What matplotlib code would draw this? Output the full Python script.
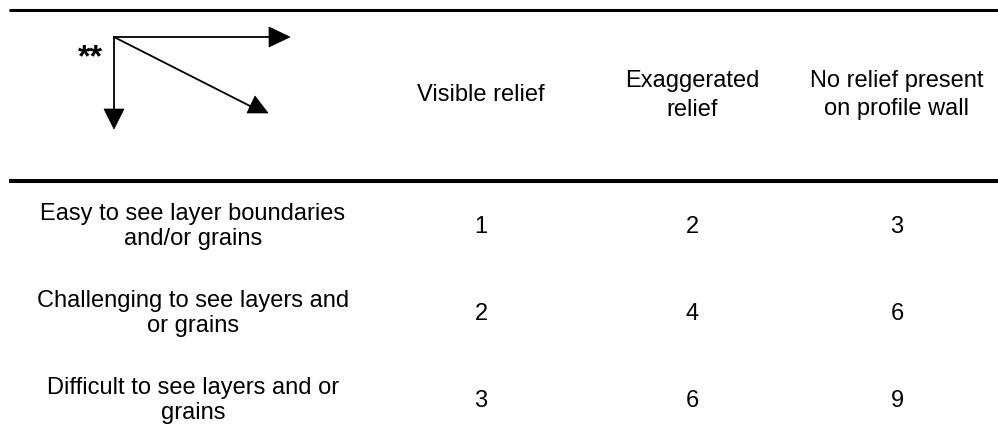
import matplotlib
matplotlib.use("Agg")
import matplotlib.pyplot as plt
from matplotlib.patches import Polygon

# ---- data ----
col_headers = ["Visible relief", "Exaggerated\nrelief", "No relief present\non profile wall"]
row_labels = ["Easy to see layer boundaries\nand/or grains",
              "Challenging to see layers and\nor grains",
              "Difficult to see layers and or\ngrains"]
values = [[1, 2, 3],
          [2, 4, 6],
          [3, 6, 9]]
corner_mark = "**"

# ---- layout (pixel coordinates) ----
W, H = 998, 438
FONT = "Liberation Sans"
FS = 17
col_x = [481, 692, 897]
label_x = 193
header_mid = 101          # vertical middle of header cell (baseline ref)
row_num_base = [233, 320, 407]
header_ls = 29
row_ls = 25

fig = plt.figure(figsize=(W / 100, H / 100), dpi=100)
ax = fig.add_axes([0, 0, 1, 1])
ax.set_xlim(0, W)
ax.set_ylim(H, 0)
ax.axis("off")

# horizontal rules
ax.plot([9, W], [9.5, 9.5], color="black", lw=2.2, solid_capstyle="butt")
ax.plot([9, W], [181, 181], color="black", lw=2.9, solid_capstyle="butt")


def multiline(x, base_mid, text, ls):
    lines = text.split("\n")
    n = len(lines)
    first = base_mid - (n - 1) * ls / 2
    for i, ln in enumerate(lines):
        ax.text(x, first + i * ls, ln, ha="center", va="baseline",
                fontsize=FS, family=FONT, color="black")


# header
for x, h in zip(col_x, col_headers):
    multiline(x, header_mid, h, header_ls)

# rows
for base, lab, vals in zip(row_num_base, row_labels, values):
    multiline(label_x, base - 0.5, lab, row_ls)
    for x, v in zip(col_x, vals):
        ax.text(x, base, str(v), ha="center", va="baseline",
                fontsize=FS, family=FONT, color="black")

# corner arrows
ox, oy = 114, 37
lw = 1.3
ax.plot([ox, 270], [oy, oy], color="black", lw=lw)
ax.add_patch(Polygon([[269, 27], [290, 37], [269, 47]], closed=True,
                     facecolor="black", edgecolor="black", lw=0.5))
ax.plot([ox, ox], [oy, 110], color="black", lw=lw)
ax.add_patch(Polygon([[104, 109], [124, 109], [114, 129]], closed=True,
                     facecolor="black", edgecolor="black", lw=0.5))
ax.plot([ox, 250], [oy, 106], color="black", lw=lw)
ax.add_patch(Polygon([[247, 113], [268, 113], [255, 96]], closed=True,
                     facecolor="black", edgecolor="black", lw=0.5))
ax.text(90, 66, corner_mark, ha="center", va="baseline", fontsize=23,
        family=FONT, fontweight="bold", color="black")

fig.savefig("out.png", dpi=100, facecolor="white")
